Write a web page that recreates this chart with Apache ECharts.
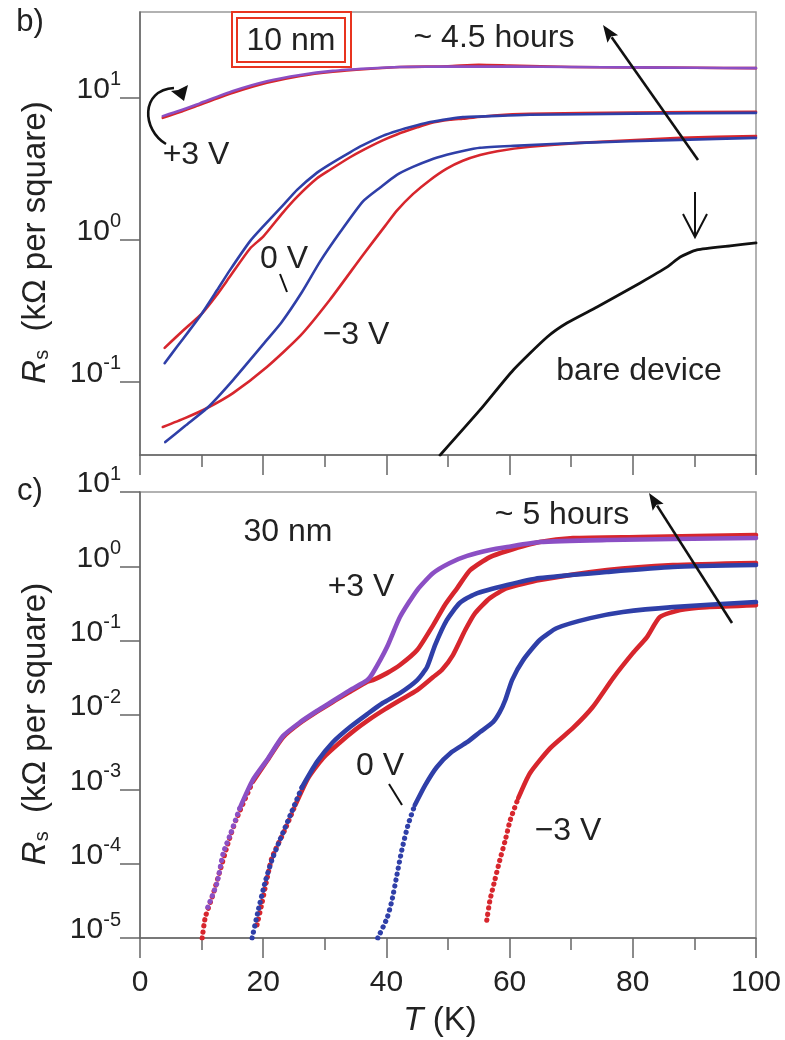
<!DOCTYPE html>
<html><head><meta charset="utf-8">
<script src="https://cdn.jsdelivr.net/npm/echarts@6/dist/echarts.min.js"></script>
<style>html,body{margin:0;padding:0;background:#fff}#c{width:785px;height:1040px}</style>
</head><body><div id="c"></div>
<script>
// ---------- tick values ----------
const tTicks = [0, 20, 40, 60, 80, 100];
const bDecades = [0.1, 1, 10];
const cDecades = [1e-5, 1e-4, 1e-3, 1e-2, 1e-1, 1, 10];

// ---------- panel b (10 nm): [T (K), Rs (kOhm/sq)] ----------
const b_p3_red = [[3.7,7.2],[6.5,7.9],[9.7,8.9],[15.1,10.8],[20.6,12.7],[26,14.2],[31.3,15.2],[36.9,15.9],[42.2,16.4],[50,16.6],[55,17.0],[60,16.8],[70,16.4],[80,16.3],[90,16.2],[100,16.1]];
const b_p3_purple = [[3.7,7.4],[6.5,8.1],[9.7,9.1],[15.1,11.1],[20.6,13.0],[26,14.4],[31.3,15.4],[36.9,16.0],[42.2,16.4],[50,16.5],[60,16.5],[70,16.4],[80,16.3],[90,16.2],[100,16.1]];
const b_0V_red = [[4,0.173],[6,0.209],[8,0.251],[10,0.30],[12.5,0.41],[14.6,0.55],[17.9,0.87],[20,1.05],[23.2,1.55],[25.5,2.0],[28.7,2.69],[30.8,3.09],[34.1,3.8],[36.2,4.27],[39.4,5.0],[41.7,5.5],[45,6.17],[47.1,6.6],[50.3,6.97],[52.4,7.1],[58,7.5],[63.3,7.67],[80,7.85],[100,7.93]];
const b_0V_blue = [[4,0.135],[6,0.176],[8,0.229],[10,0.30],[12.5,0.44],[14.6,0.61],[17.9,0.98],[20,1.24],[23.2,1.74],[25.5,2.24],[28.7,2.95],[30.8,3.39],[34.1,4.12],[36.2,4.62],[39.4,5.37],[41.7,5.82],[45,6.38],[47.1,6.72],[50.3,7.08],[52.4,7.28],[58,7.43],[63.3,7.56],[80,7.7],[100,7.8]];
const b_m3_red = [[3.7,0.048],[7.3,0.0554],[10.9,0.0653],[15.1,0.0832],[20.6,0.127],[26,0.21],[30.8,0.376],[36.2,0.78],[39.8,1.25],[41.7,1.6],[44.3,2.09],[47.1,2.63],[49.8,3.16],[52.4,3.59],[55.2,3.94],[58,4.19],[63.3,4.5],[71.4,4.8],[87.7,5.2],[100,5.36]];
const b_m3_blue = [[4.1,0.0376],[7.3,0.0488],[10.9,0.0653],[15.1,0.1028],[20.6,0.197],[22.9,0.259],[26.3,0.428],[29.2,0.697],[32.5,1.13],[36.2,1.86],[39,2.33],[41.7,2.86],[44.3,3.25],[47.1,3.64],[49.8,3.95],[52.4,4.21],[55.2,4.43],[60.6,4.57],[71.4,4.8],[87.7,5.04],[100,5.2]];
const b_bare = [[48.7,0.0304],[55.2,0.0633],[60.6,0.121],[66.1,0.2065],[69.3,0.259],[74.2,0.336],[81.2,0.496],[85.6,0.643],[87.7,0.755],[90.4,0.846],[95.8,0.904],[100,0.948]];

// ---------- panel c (30 nm) ----------
const c_p3_red = [[10.1,1.0e-5],[10.6,1.9e-5],[11.7,3.5e-5],[13,8.1e-5],[14.3,1.9e-4],[15.6,3.9e-4],[18.3,1.26e-3],[20.6,2.4e-3],[23.2,5.0e-3],[26,7.8e-3],[28.7,0.011],[31.3,0.015],[34.1,0.0205],[36.9,0.028],[37.8,0.0295],[40.1,0.0366],[42.2,0.047],[45,0.0747],[47.6,0.162],[49.5,0.302],[51.5,0.51],[53.6,0.89],[56.8,1.33],[59.6,1.61],[64.9,2.12],[70.3,2.4],[81.2,2.48],[100,2.64]];
const c_p3_purple = [[11,2.6e-5],[12.5,5.5e-5],[13.5,1.38e-4],[14.6,2.4e-4],[16.2,5.6e-4],[18.3,1.33e-3],[20.6,2.47e-3],[23.2,5.2e-3],[26,8.0e-3],[28.7,0.0113],[31.3,0.0154],[34.1,0.0216],[36.9,0.0295],[37.8,0.0367],[40.1,0.082],[42.2,0.208],[45,0.48],[47.6,0.813],[50.3,1.11],[53.1,1.38],[56.8,1.66],[59.6,1.82],[64.9,2.12],[75.8,2.26],[86.5,2.33],[100,2.4]];
const c_0V_red = [[19,1.5e-5],[19.8,2.94e-5],[20.5,5.6e-5],[21.4,1.19e-4],[23.5,2.83e-4],[25.2,6.1e-4],[27.3,1.42e-3],[29.7,2.63e-3],[32.5,4.3e-3],[34.9,6.3e-3],[37.3,8.8e-3],[39.8,0.012],[42.2,0.0158],[45,0.0216],[47.6,0.0324],[49,0.0402],[50.8,0.064],[52.8,0.139],[54.4,0.235],[56.8,0.374],[59.6,0.51],[64.9,0.654],[75.8,0.89],[86.5,1.04],[100,1.11]];
const c_0V_blue = [[18.2,1.0e-5],[19.2,2.37e-5],[20.3,5.6e-5],[21.4,1.11e-4],[22.7,2.07e-4],[24.4,4.5e-4],[26.3,1.07e-3],[28.7,2.32e-3],[31.3,4.3e-3],[34.1,6.9e-3],[36.9,0.0103],[39.4,0.0145],[42.2,0.0197],[45,0.0295],[46.6,0.0442],[47.9,0.0873],[49.8,0.189],[51.9,0.321],[54.4,0.424],[59.6,0.56],[64.9,0.696],[75.8,0.838],[86.5,0.978],[100,1.04]];
const c_m3_blue = [[38.6,1.0e-5],[40.1,1.85e-5],[40.9,3.2e-5],[41.7,7.0e-5],[42.5,1.52e-4],[43.5,3.3e-4],[44.6,6.1e-4],[46.3,1.14e-3],[48.2,2.0e-3],[50.6,3.17e-3],[53.1,4.3e-3],[55.2,5.9e-3],[57.3,8.0e-3],[58.4,0.0109],[59.3,0.0159],[60.4,0.0295],[62.2,0.0548],[64.9,0.102],[67.7,0.148],[73.1,0.201],[78.4,0.243],[86.5,0.283],[100,0.331]];
const c_m3_red = [[56.3,1.74e-5],[56.8,3.2e-5],[57.6,6.0e-5],[58.4,1.11e-4],[59.3,2.07e-4],[60.1,3.85e-4],[61.4,7.6e-4],[63.3,1.65e-3],[66.6,3.59e-3],[70.3,6.7e-3],[73.5,0.0128],[76.8,0.0314],[80,0.068],[82.3,0.112],[84.4,0.208],[87.7,0.258],[92,0.283],[100,0.301]];

// ---------- styling ----------
const RED = '#d7262d', BLUE = '#2f3fa8', PURPLE = '#8b4fc4', BLACK = '#111';
const AX = '#666', FONT = '"Liberation Sans", Arial, Helvetica, sans-serif', TXT = '#222';
const DOT_LIMIT = 5e-4;

const chart = echarts.init(document.getElementById('c'), null, {renderer: 'canvas'});

function expLabel(v) {
  const e = Math.round(Math.log10(v));
  return '{b|10}{s|' + e + '}';
}
const labelRich = {
  b: {fontSize: 30, color: TXT, fontFamily: FONT, lineHeight: 16, verticalAlign: 'middle'},
  s: {fontSize: 20, color: TXT, fontFamily: FONT, lineHeight: 16, verticalAlign: 'bottom', padding: [0, 0, 8, 0]}
};
const nameRich = {
  i: {fontStyle: 'italic', fontSize: 33, color: TXT, fontFamily: FONT},
  sub: {fontSize: 20, color: TXT, fontFamily: FONT, verticalAlign: 'bottom', padding: [10, 0, 0, 0]},
  t: {fontSize: 33, color: TXT, fontFamily: FONT}
};

function xAxisDef(gi, showLabels) {
  const a = {
    gridIndex: gi, type: 'value', min: 0, max: 100, interval: 20,
    axisLine: {show: true, onZero: false, lineStyle: {color: AX, width: 1.5}},
    axisTick: {show: true, inside: false, length: 20, customValues: tTicks, lineStyle: {color: AX, width: 1.5}},
    minorTick: {show: true, splitNumber: 2, length: 12, lineStyle: {color: AX, width: 1.5}},
    splitLine: {show: false},
    axisLabel: {show: showLabels, customValues: tTicks, fontSize: 30, color: TXT, fontFamily: FONT, margin: 30}
  };
  if (showLabels) {
    a.name = '{i|T}{t| (K)}';
    a.nameLocation = 'middle';
    a.nameGap = 66;
    a.nameTextStyle = {rich: nameRich, padding: [0, 16, 0, 0]};
  }
  return a;
}
function yAxisDef(gi, min, max, decades) {
  return {
    gridIndex: gi, type: 'log', logBase: 10, min: min, max: max,
    axisLine: {show: true, onZero: false, lineStyle: {color: AX, width: 1.5}},
    axisTick: {show: true, inside: false, length: 20, customValues: decades, lineStyle: {color: AX, width: 1.5}},
    minorTick: {show: false},
    splitLine: {show: false},
    axisLabel: {show: true, customValues: decades, formatter: expLabel, rich: labelRich, margin: 19, verticalAlign: 'bottom'},
    name: '{i|R}{sub|s}{t|  (kΩ per square)}',
    nameLocation: 'middle', nameRotate: 90, nameGap: 88,
    nameTextStyle: {rich: nameRich, padding: [0, 18, 0, 0]}
  };
}

function lineSeries(data, color, gi, width, z, dashed) {
  return {
    type: 'line', data: data, xAxisIndex: gi, yAxisIndex: gi,
    showSymbol: false, symbol: 'none', smooth: 0.2,
    lineStyle: dashed ? {color: color, width: width + 0.6, type: [0.1, 6], cap: 'round'}
                      : {color: color, width: width, cap: 'round', join: 'round'},
    z: z, silent: true, animation: false, clip: true
  };
}
// low-resistance part of the 30 nm curves is drawn as discrete dots, the rest solid
function dottedThenSolid(data, color, z) {
  let k = data.findIndex(p => p[1] >= DOT_LIMIT);
  if (k < 0) k = data.length - 1;
  return [lineSeries(data.slice(0, k + 1), color, 1, 4.6, z, true),
          lineSeries(data.slice(k), color, 1, 4.6, z, false)];
}

function arrowGraphics(x1, y1, x2, y2, head, half) {
  const dx = x2 - x1, dy = y2 - y1, L = Math.hypot(dx, dy);
  const ux = dx / L, uy = dy / L, px = -uy, py = ux;
  const bx = x2 - ux * head, by = y2 - uy * head;
  return [
    {type: 'line', z: 100, shape: {x1: x1, y1: y1, x2: bx + ux * 2, y2: by + uy * 2}, style: {stroke: BLACK, lineWidth: 2.6}},
    {type: 'polygon', z: 100, shape: {points: [[x2, y2], [bx + px * half, by + py * half], [bx + ux * 3, by + uy * 3], [bx - px * half, by - py * half]]}, style: {fill: BLACK}}
  ];
}
function txt(s, x, y, size, extra) {
  return Object.assign({type: 'text', z: 100, x: x, y: y,
    style: {text: s, fill: TXT, font: size + 'px ' + FONT, textAlign: 'center', textVerticalAlign: 'middle'}}, extra || {});
}

const graphics = [
  txt('b)', 30, 22, 31),
  txt('c)', 30, 491, 31),
  {type: 'rect', z: 99, shape: {x: 232, y: 12, width: 119, height: 55}, style: {fill: '#fff', stroke: '#e8341f', lineWidth: 2}},
  {type: 'rect', z: 99, shape: {x: 237, y: 18, width: 108, height: 44}, style: {fill: 'none', stroke: '#e8341f', lineWidth: 2}},
  txt('10 nm', 291, 41, 32),
  txt('~ 4.5 hours', 494, 38, 32),
  txt('+3 V', 196, 155, 32),
  txt('0 V', 284, 259, 32),
  txt('−3 V', 356, 335, 32),
  txt('bare device', 639, 371, 32),
  txt('30 nm', 288, 532, 32),
  txt('+3 V', 361, 587, 32),
  txt('~ 5 hours', 562, 515, 32),
  txt('0 V', 380, 766, 32),
  txt('−3 V', 568, 831, 32),
  // leader lines
  {type: 'line', z: 100, shape: {x1: 280, y1: 274, x2: 287, y2: 292}, style: {stroke: BLACK, lineWidth: 2}},
  {type: 'line', z: 100, shape: {x1: 389, y1: 784, x2: 402, y2: 805}, style: {stroke: BLACK, lineWidth: 2}},
  // curved arrow (+3 V gate sweep)
  {type: 'bezierCurve', z: 100, shape: {x1: 166, y1: 144, cpx1: 142, cpy1: 130, cpx2: 140, cpy2: 90, x2: 174, y2: 88}, style: {stroke: BLACK, lineWidth: 2.6, fill: 'none'}},
  {type: 'polygon', z: 100, shape: {points: [[184, 101], [171, 91], [178, 90], [188, 85]]}, style: {fill: BLACK}},
  // open down arrow to bare device
  {type: 'line', z: 100, shape: {x1: 695, y1: 192, x2: 695, y2: 236}, style: {stroke: BLACK, lineWidth: 2}},
  {type: 'polyline', z: 100, shape: {points: [[683, 214], [695, 237], [707, 214]]}, style: {stroke: BLACK, lineWidth: 2, fill: 'none'}}
].concat(arrowGraphics(698, 160, 603, 25, 17, 6.5))
 .concat(arrowGraphics(732, 623, 649, 493, 17, 6.5));

const series = [
  lineSeries(b_p3_red, RED, 0, 2.6, 3),
  lineSeries(b_p3_purple, PURPLE, 0, 2.6, 4),
  lineSeries(b_0V_red, RED, 0, 2.6, 3),
  lineSeries(b_0V_blue, BLUE, 0, 2.6, 4),
  lineSeries(b_m3_red, RED, 0, 2.6, 3),
  lineSeries(b_m3_blue, BLUE, 0, 2.6, 4),
  lineSeries(b_bare, BLACK, 0, 2.8, 4)
].concat(dottedThenSolid(c_p3_red, RED, 3))
 .concat(dottedThenSolid(c_p3_purple, PURPLE, 4))
 .concat(dottedThenSolid(c_0V_red, RED, 3))
 .concat(dottedThenSolid(c_0V_blue, BLUE, 4))
 .concat(dottedThenSolid(c_m3_blue, BLUE, 4))
 .concat(dottedThenSolid(c_m3_red, RED, 3));

chart.setOption({
  animation: false,
  backgroundColor: '#fff',
  textStyle: {fontFamily: FONT},
  grid: [
    {left: 140, top: 12, width: 616, height: 443, show: true, borderColor: '#999', borderWidth: 1.5, backgroundColor: 'transparent'},
    {left: 140, top: 492, width: 616, height: 446, show: true, borderColor: '#999', borderWidth: 1.5, backgroundColor: 'transparent'}
  ],
  xAxis: [xAxisDef(0, false), xAxisDef(1, true)],
  yAxis: [yAxisDef(0, 0.0305, 40, bDecades), yAxisDef(1, 1e-5, 10, cDecades)],
  graphic: graphics,
  series: series
});
</script></body></html>
